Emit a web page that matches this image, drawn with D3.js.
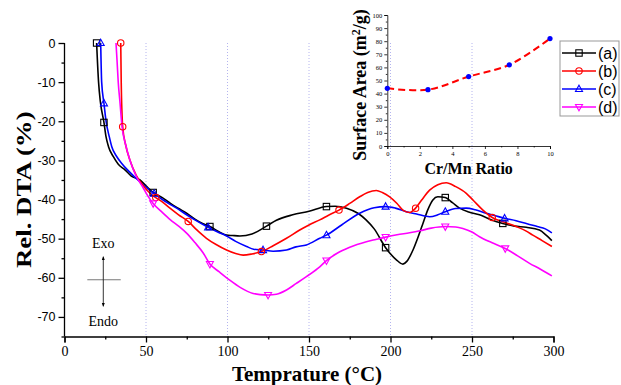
<!DOCTYPE html>
<html>
<head>
<meta charset="utf-8">
<script src="https://cdn.jsdelivr.net/npm/d3@7"></script>
<style>
  body { margin: 0; background: #fff; }
  svg { display: block; }
</style>
</head>
<body>
<div id="chart"></div>
<script>
// DTA curves, [temperature (°C), Rel. DTA (%)]
const seriesA = [[19.7,0],[20.9,-10],[22,-15],[24.2,-20.3],[25.5,-24],[27,-26.5],[29.9,-29],[33,-31],[37.1,-32.4],[41,-34],[46.3,-35],[50,-36.5],[54.4,-38.2],[60,-39.5],[65,-41],[70,-42.3],[74.9,-43.5],[80,-45],[85,-46.2],[89.2,-46.9],[95,-48.3],[99.4,-49.1],[103,-49.2],[107.6,-49.3],[115,-48.8],[123.9,-46.8],[130,-45.3],[140,-43.9],[150,-43],[160.7,-41.8],[166,-41.7],[173,-42.2],[180,-43.5],[185,-45.2],[190,-47.5],[197,-52.3],[203.6,-55.4],[207.6,-56.5],[210,-55.8],[213.8,-52.9],[217,-49.5],[219.9,-46.1],[223,-42.5],[226,-40.1],[229,-39.3],[233.6,-39.5],[238,-40.8],[242.4,-42.2],[248,-43.2],[254.6,-43.9],[262,-45.2],[268.9,-46.1],[276,-46.8],[283.3,-47.1],[291.4,-47.8],[295.5,-49.1],[299,-50.5]]
const seriesB = [[34.5,0],[34.8,-10],[35.7,-21.4],[37.5,-26],[40.1,-29.9],[44,-33.8],[48,-36.3],[52,-38.2],[56,-39.5],[60,-40.6],[64.7,-42.2],[70,-43.9],[75.9,-45.6],[81,-47.7],[87.1,-49.9],[93,-51.5],[99.4,-52.9],[105,-53.8],[109.6,-54.2],[115,-53.9],[120.8,-53.3],[128,-51.8],[136.2,-49.9],[144.3,-47.8],[150,-46.5],[156.6,-45.2],[162,-44],[168.4,-42.7],[175,-41],[181.1,-39.3],[186,-38.2],[191.3,-37.7],[195,-38.2],[199.5,-39.3],[204,-41],[207.6,-42.7],[211.7,-43.3],[215.4,-42.2],[219,-40.2],[224,-37.6],[229,-36.2],[234.2,-35.7],[240,-36.7],[246.5,-38.4],[251,-40.3],[256.7,-42.7],[262.4,-44.6],[270,-45.8],[277.1,-46.9],[283,-48],[287.3,-49.1],[293,-50.5],[299,-52]]
const seriesC = [[22.2,0],[22.8,-10],[24.2,-15.4],[25.5,-20],[27.5,-24],[29,-26.5],[32,-29],[35,-30.7],[40,-33],[45,-35],[50,-36.8],[55,-38.5],[60,-40],[65,-41.3],[70,-42.5],[74.9,-43.9],[80,-45.2],[88.1,-47.1],[94,-48.3],[99.4,-49.3],[105,-50.7],[111.7,-52],[116,-52.7],[121.8,-52.9],[128,-53.2],[136.2,-52.9],[142,-52.1],[148.4,-51.6],[156.6,-49.9],[160.7,-49.1],[170,-46.5],[181.1,-43.5],[190,-42.1],[197,-41.8],[203,-42.2],[209.7,-43.1],[216,-43.7],[224,-44.4],[229,-43.9],[233.6,-43.1],[240,-42.3],[246.5,-42.2],[252,-42.6],[258.7,-43.5],[264,-44.1],[270,-44.8],[277,-45.4],[283.3,-46.1],[290,-46.9],[295,-47.5],[299,-48.5]]
const seriesD = [[31.6,0],[32.3,-5],[33,-10.2],[34,-15],[35.3,-21.4],[37.5,-26],[40.1,-29.9],[44.2,-34.2],[48,-36.8],[51,-39],[54.4,-41],[60,-43.3],[65,-45.2],[70,-46.8],[74.9,-48.6],[80,-51],[85,-53.6],[89.2,-56.5],[95,-58.5],[101.4,-60.6],[108,-62.5],[115.7,-64],[120,-64.3],[124.9,-64.4],[130,-64.2],[136.2,-63.1],[142,-61.5],[148.4,-59.7],[156.6,-57.2],[160.7,-55.6],[167,-53.8],[175,-52.2],[185.2,-50.8],[191,-50.2],[197,-49.6],[204,-49],[211.7,-48.5],[218,-48],[225,-47.3],[233.6,-46.9],[240,-47],[244.4,-47.4],[250,-48.3],[254.6,-49.5],[262,-51],[270.4,-52.5],[278,-54.4],[285.3,-56.3],[292,-57.8],[299,-59.5]]

// temperatures where the open markers sit
const markersA = [19.7, 24.2, 54.4, 89.2, 123.9, 160.7, 197, 233.6, 268.9]
const markersB = [34.5, 35.7, 56, 75.9, 120.8, 168.4, 215.4, 262.4]
const markersC = [22.2, 24.2, 55, 88.1, 121.8, 160.7, 197, 233.6, 270]
const markersD = [54.4, 89.2, 124.9, 160.7, 197, 233.6, 270.4]

const seriesNames = ['(a)', '(b)', '(c)', '(d)']
const seriesColors = ['#000000', '#ff0000', '#0000ff', '#ff00ff']
const seriesShapes = ['square', 'circle', 'triangle', 'down']

const xTicks = [0, 50, 100, 150, 200, 250, 300]
const yTicks = [0, -10, -20, -30, -40, -50, -60, -70]

// inset: surface area vs Cr/Mn ratio
const ratio = [0, 2.5, 5, 7.5, 10]
const surfaceArea = [44, 43, 53, 62, 82]
const insetXTicks = [0, 2, 4, 6, 8, 10]
const insetYTicks = [0, 10, 20, 30, 40, 50, 60, 70, 80, 90, 100]

const width = 621
const height = 385
const serif = '"Liberation Serif", "Times New Roman", serif'
const sans = '"Liberation Sans", Arial, sans-serif'

const svg = d3.select('#chart').append('svg')
	.attr('width', width)
	.attr('height', height)

const x = d3.scaleLinear().domain([0, 300]).range([64.5, 553.5])
const y = d3.scaleLinear().domain([-75, 0]).range([336.5, 43])

// vertical dotted grid
svg.append('g')
	.selectAll('line')
	.data([50, 100, 150, 200, 250])
	.join('line')
	.attr('x1', d => x(d)).attr('x2', d => x(d))
	.attr('y1', y(0)).attr('y2', y(-75))
	.attr('stroke', '#b4b4ee')
	.attr('stroke-width', 1)
	.attr('stroke-dasharray', '1,2')

// x axis
const xAxis = svg.append('g')
	.attr('transform', `translate(0,${y(-75)})`)
xAxis.call(d3.axisBottom(x).tickValues(xTicks).tickSize(6).tickPadding(4).tickFormat(d => d))
xAxis.append('g')
	.call(d3.axisBottom(x).tickValues([25, 75, 125, 175, 225, 275]).tickSize(3).tickFormat(''))
	.select('.domain').remove()
xAxis.selectAll('text').style('font-family', serif).style('font-size', '14px').attr('fill', '#000')
xAxis.selectAll('line, path').attr('stroke', '#000').attr('stroke-width', 1.3)

// y axis
const yAxis = svg.append('g')
	.attr('transform', `translate(${x(0)},0)`)
yAxis.call(d3.axisLeft(y).tickValues(yTicks).tickSize(6).tickPadding(3).tickFormat(d => d))
yAxis.append('g')
	.call(d3.axisLeft(y).tickValues([-5, -15, -25, -35, -45, -55, -65, -75]).tickSize(3).tickFormat(''))
	.select('.domain').remove()
yAxis.selectAll('text').style('font-family', sans).style('font-size', '12.5px').attr('fill', '#000')
yAxis.selectAll('line, path').attr('stroke', '#000').attr('stroke-width', 1.3)
yAxis.select('.domain').attr('d', `M0,${y(-75)}V${y(0)}`)

// axis titles
svg.append('text')
	.attr('x', x(150) - 2)
	.attr('y', 381)
	.attr('text-anchor', 'middle')
	.style('font-family', serif)
	.style('font-weight', 'bold')
	.style('font-size', '21px')
	.text('Temprature (°C)')

svg.append('text')
	.attr('transform', `translate(31,${y(-37.5)}) rotate(-90) scale(1.22,1)`)
	.attr('text-anchor', 'middle')
	.style('font-family', serif)
	.style('font-weight', 'bold')
	.style('font-size', '22px')
	.text('Rel. DTA (%)')

// curves
const line = d3.line()
	.x(d => x(d[0]))
	.y(d => y(d[1]))
	.curve(d3.curveMonotoneX)

const allSeries = [seriesA, seriesB, seriesC, seriesD]
const allMarkers = [markersA, markersB, markersC, markersD]

function valueAt(series, t) {
	for (let i = 1; i < series.length; i++) {
		if (series[i][0] >= t) {
			const a = series[i - 1], b = series[i]
			const k = (t - a[0]) / (b[0] - a[0])
			return a[1] + k * (b[1] - a[1])
		}
	}
	return series[series.length - 1][1]
}

function marker(g, shape, color, s) {
	if (shape == 'square') {
		g.append('rect').attr('x', -s).attr('y', -s).attr('width', 2 * s).attr('height', 2 * s)
	} else if (shape == 'circle') {
		g.append('circle').attr('r', s)
	} else if (shape == 'triangle') {
		g.append('path').attr('d', `M0,${-s * 1.2}L${s * 1.1},${s * 0.8}L${-s * 1.1},${s * 0.8}Z`)
	} else {
		g.append('path').attr('d', `M0,${s * 1.2}L${s * 1.1},${-s * 0.8}L${-s * 1.1},${-s * 0.8}Z`)
	}
	g.selectAll('*').attr('fill', 'none').attr('stroke', color).attr('stroke-width', 1.1)
}

// draw a then c then b then d so magenta sits on top like the original
const order = [0, 2, 1, 3]
order.forEach(i => {
	svg.append('path')
		.datum(allSeries[i])
		.attr('d', line)
		.attr('fill', 'none')
		.attr('stroke', seriesColors[i])
		.attr('stroke-width', 1.6)
		.attr('stroke-linejoin', 'round')
})
order.forEach(i => {
	allMarkers[i].forEach(t => {
		const g = svg.append('g')
			.attr('transform', `translate(${x(t)},${y(valueAt(allSeries[i], t))})`)
		marker(g, seriesShapes[i], seriesColors[i], 3.2)
	})
})

// Exo / Endo annotation
const ax = x(23.8)
svg.append('text').attr('x', ax).attr('y', y(-52.3)).attr('text-anchor', 'middle')
	.style('font-family', serif).style('font-size', '14px').text('Exo')
svg.append('text').attr('x', ax).attr('y', y(-72.3)).attr('text-anchor', 'middle')
	.style('font-family', serif).style('font-size', '14px').text('Endo')
svg.append('line')
	.attr('x1', x(14)).attr('x2', x(34.5))
	.attr('y1', y(-60.5)).attr('y2', y(-60.5))
	.attr('stroke', '#555').attr('stroke-width', 0.8)
svg.append('defs').append('marker')
	.attr('id', 'arr')
	.attr('viewBox', '0 0 10 10')
	.attr('refX', 9).attr('refY', 5)
	.attr('markerWidth', 5).attr('markerHeight', 7)
	.attr('orient', 'auto')
	.append('path').attr('d', 'M0,1L10,5L0,9Z').attr('fill', '#000')
svg.append('line')
	.attr('x1', ax).attr('x2', ax)
	.attr('y1', y(-60.5)).attr('y2', y(-54.6))
	.attr('stroke', '#000').attr('stroke-width', 0.8).attr('marker-end', 'url(#arr)')
svg.append('line')
	.attr('x1', ax).attr('x2', ax)
	.attr('y1', y(-60.5)).attr('y2', y(-67.3))
	.attr('stroke', '#000').attr('stroke-width', 0.8).attr('marker-end', 'url(#arr)')

// inset chart
const ix = d3.scaleLinear().domain([0, 10]).range([387.3, 550])
const iy = d3.scaleLinear().domain([0, 100]).range([146, 15])

const ixAxis = svg.append('g').attr('transform', `translate(0,${iy(0)})`)
ixAxis.call(d3.axisBottom(ix).tickValues(insetXTicks).tickSize(3).tickPadding(2))
ixAxis.append('g')
	.call(d3.axisBottom(ix).tickValues([1, 3, 5, 7, 9]).tickSize(1.5).tickFormat(''))
	.select('.domain').remove()
const iyAxis = svg.append('g').attr('transform', `translate(${ix(0)},0)`)
iyAxis.call(d3.axisLeft(iy).tickValues(insetYTicks).tickSize(3).tickPadding(2))
iyAxis.append('g')
	.call(d3.axisLeft(iy).tickValues(d3.range(5, 100, 10)).tickSize(1.5).tickFormat(''))
	.select('.domain').remove()
;[ixAxis, iyAxis].forEach(a => {
	a.selectAll('text').style('font-family', serif).style('font-size', '6.5px').attr('fill', '#000')
	a.selectAll('line, path').attr('stroke', '#000').attr('stroke-width', 0.8)
})

const insetData = ratio.map((r, i) => [r, surfaceArea[i]])
svg.append('path')
	.datum(insetData)
	.attr('d', d3.line().x(d => ix(d[0])).y(d => iy(d[1])).curve(d3.curveCatmullRom))
	.attr('fill', 'none')
	.attr('stroke', '#ff0000')
	.attr('stroke-width', 2)
	.attr('stroke-dasharray', '7,4')
svg.append('g')
	.selectAll('circle')
	.data(insetData)
	.join('circle')
	.attr('cx', d => ix(d[0]))
	.attr('cy', d => iy(d[1]))
	.attr('r', 2.6)
	.attr('fill', '#0000ff')

svg.append('text')
	.attr('x', (ix(0) + ix(10)) / 2)
	.attr('y', 174)
	.attr('text-anchor', 'middle')
	.style('font-family', serif)
	.style('font-weight', 'bold')
	.style('font-size', '16px')
	.text('Cr/Mn Ratio')

const iyLabel = svg.append('text')
	.attr('transform', `translate(366,85) rotate(-90)`)
	.attr('text-anchor', 'middle')
	.style('font-family', serif)
	.style('font-weight', 'bold')
	.style('font-size', '18px')
iyLabel.append('tspan').text('Surface Area (m')
iyLabel.append('tspan').attr('dy', -6).style('font-size', '12px').text('2')
iyLabel.append('tspan').attr('dy', 6).text('/g)')

// legend
const legend = svg.append('g').attr('transform', 'translate(560,41)')
legend.append('rect')
	.attr('width', 59).attr('height', 75)
	.attr('fill', '#fff').attr('stroke', '#999').attr('stroke-width', 1)
seriesNames.forEach((name, i) => {
	const row = legend.append('g').attr('transform', `translate(0,${12 + i * 18})`)
	row.append('line')
		.attr('x1', 2).attr('x2', 36)
		.attr('stroke', seriesColors[i]).attr('stroke-width', 1.6)
	marker(row.append('g').attr('transform', 'translate(19,0)'), seriesShapes[i], seriesColors[i], 3.2)
	row.append('text')
		.attr('x', 38).attr('y', 6)
		.style('font-family', sans).style('font-size', '16px')
		.text(name)
})
</script>
</body>
</html>
